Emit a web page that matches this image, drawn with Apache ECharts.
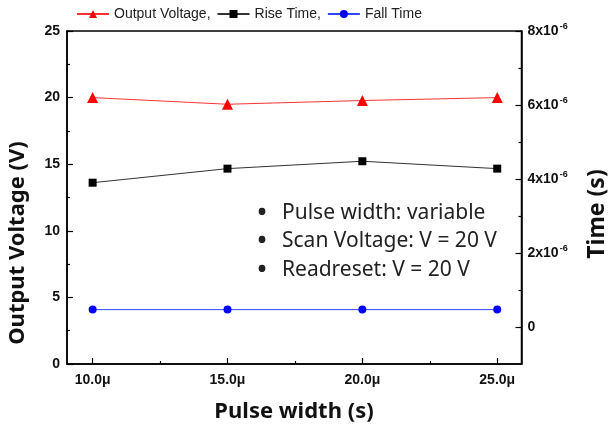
<!DOCTYPE html>
<html>
<head>
<meta charset="utf-8">
<script src="https://cdn.jsdelivr.net/npm/echarts@6/dist/echarts.min.js"></script>
<style>
	html, body { margin: 0; padding: 0; background: #fff; }
	#chart { width: 613px; height: 430px; }
</style>
</head>
<body>
<div id="chart"></div>
<script>
// pulse width in microseconds
var pulseWidth = [10, 15, 20, 25];
var outputVoltage = [20.0, 19.5, 19.78, 20.0];
var riseTime = [3.9e-6, 4.28e-6, 4.48e-6, 4.28e-6];
var fallTime = [0.47e-6, 0.47e-6, 0.47e-6, 0.47e-6];

var xTicks = [10, 15, 20, 25];
var xMinorTicks = [12.5, 17.5, 22.5];
var timeTicks = [0, 2e-6, 4e-6, 6e-6, 8e-6];
var timeMinorTicks = [1e-6, 3e-6, 5e-6, 7e-6];
var notes = ['Pulse width: variable', 'Scan Voltage: V = 20 V', 'Readreset: V = 20 V'];

function pairs(ys) {
	return pulseWidth.map(function(x, i) { return [x, ys[i]]; });
}

var dom = document.getElementById('chart');
var myChart = echarts.init(dom);

var tickFont = { color: '#111', fontSize: 14, fontWeight: 'bold', fontFamily: 'Liberation Sans' };
var titleFont = 'bold 22px "Noto Sans"';

var noteGraphics = [];
notes.forEach(function(t, i) {
	var y = 213 + i * 28.5;
	noteGraphics.push({ type: 'text', x: 262, y: y, style: { text: '•', font: 'bold 24px "Noto Sans"', fill: '#222', align: 'center', verticalAlign: 'middle' } });
	noteGraphics.push({ type: 'text', x: 282, y: y, style: { text: t, font: '21px "Noto Sans"', fill: '#222', verticalAlign: 'middle' } });
});

var option = {
	animation: false,
	backgroundColor: '#fff',
	legend: {
		left: 76,
		top: 7,
		padding: 0,
		itemWidth: 32,
		itemHeight: 10,
		itemGap: 6,
		textStyle: { fontSize: 14, color: '#222', fontFamily: 'Liberation Sans' },
		formatter: function(name) {
			return name === 'Fall Time' ? name : name + ',';
		},
		data: ['Output Voltage', 'Rise Time', 'Fall Time']
	},
	grid: {
		left: 67,
		right: 91.5,
		top: 31,
		bottom: 66,
		show: true,
		borderColor: '#000',
		borderWidth: 1.5
	},
	xAxis: [
		{
			type: 'value',
			min: 9.05,
			max: 25.9,
			position: 'bottom',
			splitLine: { show: false },
			axisLine: { onZero: false, lineStyle: { color: '#000', width: 1.5 } },
			axisTick: { inside: true, length: 6, customValues: xTicks, lineStyle: { color: '#000', width: 1.2 } },
			axisLabel: {
				customValues: xTicks,
				margin: 9,
				formatter: function(v) { return v.toFixed(1) + 'μ'; },
				color: tickFont.color, fontSize: tickFont.fontSize, fontWeight: tickFont.fontWeight, fontFamily: tickFont.fontFamily
			}
		},
		{
			type: 'value',
			min: 9.05,
			max: 25.9,
			position: 'bottom',
			splitLine: { show: false },
			axisLine: { show: false, onZero: false },
			axisTick: { inside: true, length: 3, customValues: xMinorTicks, lineStyle: { color: '#000', width: 1.2 } },
			axisLabel: { show: false }
		}
	],
	yAxis: [
		{
			type: 'value',
			min: 0,
			max: 25,
			interval: 5,
			position: 'left',
			splitLine: { show: false },
			axisLine: { show: true, onZero: false, lineStyle: { color: '#000', width: 1.5 } },
			axisTick: { inside: true, length: 6, lineStyle: { color: '#000', width: 1.2 } },
			minorTick: { show: true, splitNumber: 2, length: 3, lineStyle: { color: '#000', width: 1.2 } },
			axisLabel: { margin: 7, color: tickFont.color, fontSize: tickFont.fontSize, fontWeight: tickFont.fontWeight, fontFamily: tickFont.fontFamily }
		},
		{
			type: 'value',
			min: -1e-6,
			max: 8e-6,
			position: 'right',
			splitLine: { show: false },
			axisLine: { show: true, onZero: false, lineStyle: { color: '#000', width: 1.5 } },
			axisTick: { inside: true, length: 6, customValues: timeTicks, lineStyle: { color: '#000', width: 1.2 } },
			axisLabel: {
				customValues: timeTicks,
				margin: 6,
				formatter: function(v) {
					var n = Math.round(v * 1e6);
					return n === 0 ? '0' : n + 'x10{sup|-6}';
				},
				color: tickFont.color, fontSize: tickFont.fontSize, fontWeight: tickFont.fontWeight, fontFamily: tickFont.fontFamily,
				rich: {
					sup: { fontSize: 9, fontWeight: 'bold', color: '#111', fontFamily: 'Liberation Sans', verticalAlign: 'top', padding: [0, 0, 8, 1] }
				}
			}
		},
		{
			type: 'value',
			min: -1e-6,
			max: 8e-6,
			position: 'right',
			splitLine: { show: false },
			axisLine: { show: false, onZero: false },
			axisTick: { inside: true, length: 3, customValues: timeMinorTicks, lineStyle: { color: '#000', width: 1.2 } },
			axisLabel: { show: false }
		}
	],
	graphic: [
		{ type: 'text', x: 18, y: 243, rotation: Math.PI / 2, style: { text: 'Output Voltage (V)', font: titleFont, fill: '#111', align: 'center', verticalAlign: 'middle' } },
		{ type: 'text', x: 597, y: 214, rotation: Math.PI / 2, style: { text: 'Time (s)', font: 'bold 23px "Noto Sans"', fill: '#111', align: 'center', verticalAlign: 'middle' } },
		{ type: 'text', x: 294, y: 412, style: { text: 'Pulse width (s)', font: titleFont, fill: '#111', align: 'center', verticalAlign: 'middle' } }
	].concat(noteGraphics),
	series: [
		{
			name: 'Output Voltage',
			type: 'line',
			yAxisIndex: 0,
			symbol: 'triangle',
			symbolSize: 11,
			itemStyle: { color: '#ff0000' },
			lineStyle: { color: '#ff3333', width: 1 },
			data: pairs(outputVoltage)
		},
		{
			name: 'Rise Time',
			type: 'line',
			yAxisIndex: 1,
			symbol: 'rect',
			symbolSize: 8,
			itemStyle: { color: '#000' },
			lineStyle: { color: '#333', width: 1 },
			data: pairs(riseTime)
		},
		{
			name: 'Fall Time',
			type: 'line',
			yAxisIndex: 1,
			symbol: 'circle',
			symbolSize: 8,
			itemStyle: { color: '#0000ff' },
			lineStyle: { color: '#3344ff', width: 1 },
			data: pairs(fallTime)
		}
	]
};

if (option && typeof option === 'object') {
	myChart.setOption(option, true);
}
</script>
</body>
</html>
